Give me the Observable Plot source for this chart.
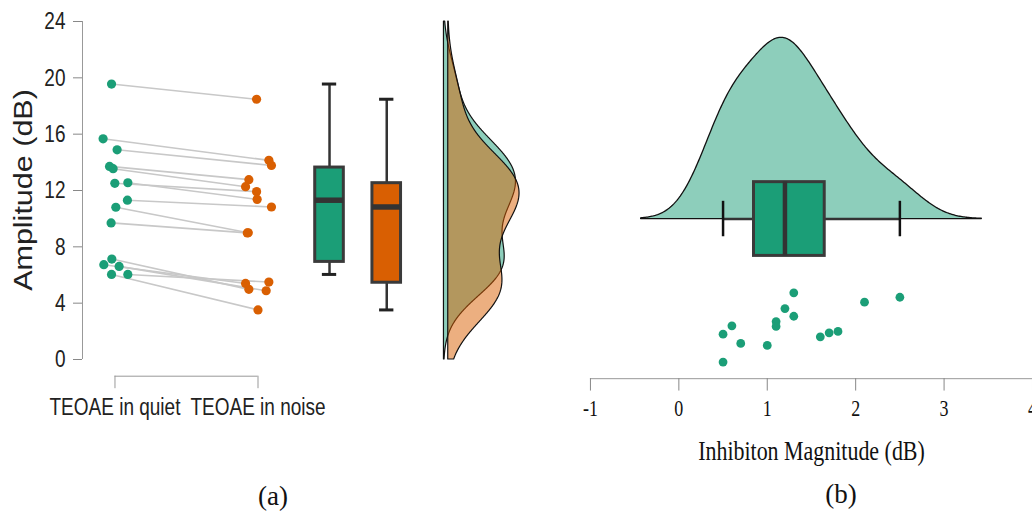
<!DOCTYPE html>
<html><head><meta charset="utf-8">
<script src="https://cdn.jsdelivr.net/npm/d3@7"></script>
<script src="https://cdn.jsdelivr.net/npm/@observablehq/plot@0.6"></script>
<style>
html,body{margin:0;padding:0;background:#fff;overflow:hidden}
#wrap{position:relative;width:1032px;height:511px;overflow:hidden}
#pa{position:absolute;left:0;top:0}
#pb{position:absolute;left:560px;top:0}
.cap{position:absolute;font-family:"Liberation Serif","Times New Roman",serif;font-size:27px;line-height:1;color:#111;transform:translate(-50%,-50%);white-space:nowrap}
.ylab{position:absolute;font-family:"Liberation Sans",Arial,sans-serif;font-size:25px;line-height:1;color:#222;white-space:nowrap;transform:translate(-50%,-50%) rotate(-90deg) scale(1.22,1)}
</style></head><body>
<div id="wrap"><div id="pa"></div><div id="pb"></div>
<div class="ylab" style="left:23px;top:190px">Amplitude (dB)</div>
<div class="cap" style="left:273px;top:496px">(a)</div>
<div class="cap" style="left:841px;top:494px">(b)</div>
</div>
<script>
// ---------- data: panel (a) ----------
const conditions = ["TEOAE in quiet", "TEOAE in noise"];
const quiet = [19.56, 15.67, 14.89, 13.71, 13.55, 12.51, 12.55, 11.31, 10.81, 9.70, 7.13, 6.73, 6.61, 6.04, 6.04];
const noise = [18.48, 14.14, 13.78, 12.77, 12.27, 11.92, 11.37, 10.83, 9.00, 8.99, 4.98, 5.40, 4.88, 3.52, 5.50];
const quietJitter = [-0.024, -0.083, 0.015, -0.038, -0.013, -0.001, 0.09, 0.087, 0.006, -0.027, -0.022, -0.078, 0.029, -0.024, 0.09];
const noiseJitter = [-0.010, 0.076, 0.094, -0.064, -0.087, -0.010, -0.006, 0.094, -0.068, -0.075, -0.064, -0.087, 0.057, 0.000, 0.076];
const yTicksA = [0, 4, 8, 12, 16, 20, 24];
// ---------- data: panel (b) ----------
const inhibition = [1.3, 2.5, 2.1, 1.2, 1.3, 1.1, 0.6, 1.1, 1.8, 1.7, 0.5, 1.6, 0.7, 1.0, 0.5];
const inhibitionJitter = [-0.4625, -0.49, -0.521, -0.561, -0.609, -0.642, -0.669, -0.673, -0.704, -0.7125, -0.721, -0.7375, -0.779, -0.792, -0.896];
const xTicksB = [-1, 0, 1, 2, 3, 4];
const colors = ["#1b9e77", "#d95f02"];

// ---------- helpers ----------
function bwNrd0(v) {
  const s = d3.deviation(v);
  const iqr = d3.quantile(v, 0.75) - d3.quantile(v, 0.25);
  return 0.9 * Math.min(s, iqr / 1.34) * Math.pow(v.length, -0.2);
}
function kde(v, lo, hi) {
  const bw = bwNrd0(v);
  const a = Math.max(lo, d3.min(v) - 3 * bw), b = Math.min(hi, d3.max(v) + 3 * bw);
  const n = 300, c = 1 / (v.length * bw * Math.sqrt(2 * Math.PI));
  return d3.range(n + 1).map(i => {
    const t = a + (b - a) * i / n;
    return {t, d: c * d3.sum(v, x => Math.exp(-0.5 * ((t - x) / bw) ** 2))};
  });
}
function boxStats(v) {
  const q1 = d3.quantile(v, 0.25), med = d3.quantile(v, 0.5), q3 = d3.quantile(v, 0.75);
  const iqr = q3 - q1;
  const lo = d3.min(v.filter(x => x >= q1 - 1.5 * iqr));
  const hi = d3.max(v.filter(x => x <= q3 + 1.5 * iqr));
  return {q1, med, q3, lo, hi};
}
function stretch(svg, sel, sx, sy) {
  svg.querySelectorAll(sel).forEach(t => {
    const b = t.getBBox();
    const cx = b.x + b.width / 2, cy = b.y + b.height / 2;
    const tr = t.getAttribute("transform") || "";
    t.setAttribute("transform", `${tr} translate(${cx},${cy}) scale(${sx},${sy}) translate(${-cx},${-cy})`);
  });
}

// ---------- panel (a) ----------
const yDomA = [0, 24];
const xDomA = [0.773, 3.975];
const posA = [1, 2];          // category positions
const boxPos = [2.5, 2.9];     // box plot positions
const densBase = [3.3, 3.33];  // half-violin baselines
const pairs = quiet.map((q, i) => ({q, n: noise[i], xq: posA[0] + quietJitter[i], xn: posA[1] + noiseJitter[i]}));
const series = [quiet, noise];
const dens = series.map(v => kde(v, yDomA[0], yDomA[1]));
const kA = 0.5035 / d3.max(dens[0], d => d.d);

const boxMarksA = series.flatMap((v, i) => {
  const s = boxStats(v), p = boxPos[i];
  return [
    Plot.ruleX([p], {y1: s.lo, y2: s.hi, stroke: "#333", strokeWidth: 2.5}),
    Plot.ruleY([s.lo, s.hi], {x1: p - 0.05, x2: p + 0.05, stroke: "#222", strokeWidth: 3}),
    Plot.rect([s], {x1: p - 0.1, x2: p + 0.1, y1: "q1", y2: "q3", fill: colors[i], stroke: "#3a3a3a", strokeWidth: 3}),
    Plot.ruleY([s.med], {x1: p - 0.1, x2: p + 0.1, stroke: "#333", strokeWidth: 5.5})
  ];
});
const densMarksA = dens.map((g, i) =>
  Plot.areaX(g.map(d => ({y: d.t, x1: densBase[i], x2: densBase[i] + d.d * kA})),
    {y: "y", x1: "x1", x2: "x2", fill: colors[i], fillOpacity: 0.5, stroke: "#111", strokeWidth: 1.2}));

const plotA = Plot.plot({
  width: 540, height: 430,
  marginLeft: 82, marginRight: 0, marginTop: 21, marginBottom: 71,
  x: {domain: xDomA, axis: null},
  y: {domain: yDomA},
  style: {fontFamily: "'Liberation Sans', Arial, sans-serif", fontSize: "19px", color: "#222", background: "transparent", overflow: "visible"},
  marks: [
    Plot.ruleX([xDomA[0]], {y1: yDomA[0], y2: yDomA[1], stroke: "#999"}),
    Plot.axisY({ticks: yTicksA, tickSize: 9, tickPadding: 8, stroke: "#888", fill: "#222", label: null, fontSize: 19}),
    Plot.ruleY([yDomA[0]], {x1: posA[0], x2: posA[1], dy: 16.7, stroke: "#999"}),
    Plot.axisX({ticks: posA, tickFormat: d => conditions[posA.indexOf(d)], tickSize: 12.5, tickPadding: 11, dy: 16.7, stroke: "#999", fill: "#222", label: null, fontSize: 19}),
    Plot.link(pairs, {x1: "xq", y1: "q", x2: "xn", y2: "n", stroke: "#c8c8c8", strokeWidth: 1.6}),
    Plot.dot(pairs, {x: "xq", y: "q", r: 4.6, fill: colors[0]}),
    Plot.dot(pairs, {x: "xn", y: "n", r: 4.6, fill: colors[1]}),
    ...boxMarksA,
    ...densMarksA
  ]
});
document.getElementById("pa").appendChild(plotA);

// ---------- panel (b) ----------
const yDomB = [-1, 1.25];
const xDomB = [-1, 4];
const densB = kde(inhibition, -Infinity, Infinity);
const kB = 1.135 / d3.max(densB, d => d.d);
const sB = boxStats(inhibition);
const boxH = 0.231, capH = 0.111;
const ptsB = inhibition.map((v, i) => ({v, j: inhibitionJitter[i]}));

const plotB = Plot.plot({
  width: 473, height: 430,
  marginLeft: 30, marginRight: 0, marginTop: 19, marginBottom: 51,
  x: {domain: xDomB},
  y: {domain: yDomB, axis: null},
  style: {fontFamily: "'Liberation Serif', 'Times New Roman', serif", fontSize: "18px", color: "#111", background: "transparent", overflow: "visible"},
  marks: [
    Plot.areaY(densB.map(d => ({x: d.t, y2: d.d * kB})), {x: "x", y1: 0, y2: "y2", fill: colors[0], fillOpacity: 0.5, stroke: "#111", strokeWidth: 1.3}),
    Plot.ruleY([0], {x1: sB.lo, x2: sB.hi, stroke: "#333", strokeWidth: 2.5}),
    Plot.ruleX([sB.lo, sB.hi], {y1: -capH, y2: capH, stroke: "#111", strokeWidth: 2.5}),
    Plot.rect([sB], {x1: "q1", x2: "q3", y1: -boxH, y2: boxH, fill: colors[0], stroke: "#3a3a3a", strokeWidth: 3}),
    Plot.ruleX([sB.med], {y1: -boxH, y2: boxH, stroke: "#333", strokeWidth: 4.5}),
    Plot.dot(ptsB, {x: "v", y: "j", r: 4.4, fill: colors[0]}),
    Plot.ruleY([yDomB[0]], {x1: xDomB[0], x2: xDomB[1], stroke: "#999"}),
    Plot.axisX({ticks: xTicksB, tickFormat: d => String(d), tickSize: 12.4, tickPadding: 11, stroke: "#888", fill: "#111", label: null, fontSize: 18}),
    Plot.text(["Inhibiton Magnitude (dB)"], {frameAnchor: "bottom", dy: 80, fontSize: 22, fill: "#111"})
  ]
});
document.getElementById("pb").appendChild(plotB);

// vertical stretch of text to match the reference's aspect
stretch(plotA, "text", 1, 1.25);
stretch(plotB, "text", 1, 1.25);
</script>
</body></html>
